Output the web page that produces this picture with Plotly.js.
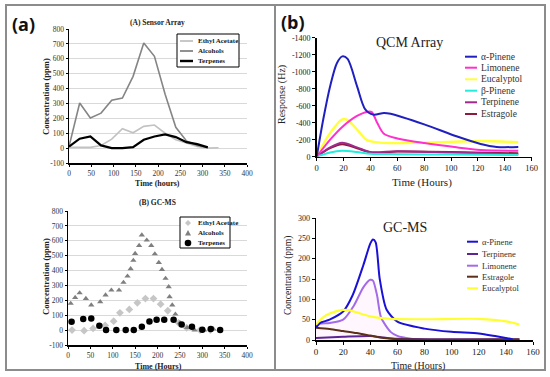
<!DOCTYPE html>
<html><head><meta charset="utf-8">
<script src="https://cdn.plot.ly/plotly-3.0.1.min.js"></script>
<style>html,body{margin:0;padding:0;background:#fff}#chart{width:550px;height:377px}</style>
</head><body><div id="chart"></div>
<script>
// ---------- (A) Sensor Array ----------
const saTime = [0,24,48,72,96,120,144,168,192,216,240,264,288,312,336];
const saEthyl = [5,5,5,18,60,130,103,146,155,100,56,34,11,0,2];
const saAlcohols = [10,303,202,235,322,336,482,706,617,362,140,48,18,5,null];
const saTerpenes = [10,63,78,18,0,0,7,56,78,92,74,40,27,5,null];

// ---------- (B) GC-MS (left) ----------
const gbEthylT = [9,36,56,83,102,116,137,155,173,191,207,223,247,265,295,318];
const gbEthyl = [0,-4,11,31,60,116,139,183,212,212,174,130,49,16,0,0];
const gbAlcT = [6,16,26,40,52,72,84,97,114,124,133,140,146,150,159,165,176,186,194,203,210,218,225,227,233,240,250,266,283,304,325];
const gbAlc = [179,219,250,212,168,190,235,268,268,320,362,412,468,514,568,638,604,568,512,454,407,347,291,224,168,107,49,16,0,0,7];
const gbTerpT = [8,34,52,70,85,108,129,147,165,182,198,215,236,254,277,300,319,340];
const gbTerp = [56,74,78,29,0,0,0,0,22,58,69,69,69,38,22,2,7,0];

// ---------- (b) QCM Array ----------
const qAlphaT = [0,5,10,15,19,23,30,36,42,50,55,80,104,122,134,150];
const qAlpha = [0,-450,-830,-1100,-1180,-1150,-830,-560,-495,-515,-505,-380,-240,-150,-115,-115];
const qLimT = [0,10,19,30,38,41,45,50,60,80,104,122,150];
const qLim = [0,-200,-350,-480,-530,-525,-400,-270,-215,-160,-110,-80,-70];
const qEucT = [0,10,19,23,30,37,47,80,122,150];
const qEuc = [0,-280,-440,-430,-320,-200,-165,-165,-185,-170];
const qSmallT = [0,10,19,30,40,60,100,150];
const qBeta = [0,-50,-70,-55,-35,-30,-25,-20];
const qTerp = [0,-110,-165,-110,-55,-65,-50,-30];
const qEstr = [0,-100,-145,-100,-50,-60,-55,-40];
const qYTicks = [0,-200,-400,-600,-800,-1000,-1200,-1400];
const qYLabels = ["0","-200","-400","-600","-800","-1000","-1200","-1400"];

// ---------- (b) GC-MS ----------
const gAlphaT = [0,3,10,20,27,35,40,42,44,47,52,60,80,100,120,133,145];
const gAlpha = [30,42,50,70,110,185,237,247,240,150,75,45,28,20,16,9,2];
const gLimT = [0,3,10,20,28,35,40,42,45,48,55,60,70,80];
const gLim = [35,40,42,50,85,130,148,146,110,55,20,10,3,0];
const gTerpT = [0,20,40,50,60,150];
const gTerp = [5,8,10,6,3,2];
const gEstrT = [0,10,20,30,40,50,60,150];
const gEstr = [30,27,22,17,11,5,2,1];
const gEucT = [0,5,10,20,25,30,40,55,80,120,140,150];
const gEuc = [38,55,65,74,73,68,58,52,51,52,46,38];

const leftYTicks = [-100,0,100,200,300,400,500,600,700,800];
const leftYLabels = ["-100","0","100","200","300","400","500","600","700","800"];

const W = 550, H = 377;
const px = x => x / W, py = y => 1 - y / H;
const SERIF = 'Liberation Serif';

const traces = [
  {x: saTime, y: saEthyl, xaxis:'x', yaxis:'y', mode:'lines', line:{color:'#c2c2c2', width:1.6}, name:'Ethyl Acetate'},
  {x: saTime, y: saAlcohols, xaxis:'x', yaxis:'y', mode:'lines', line:{color:'#858585', width:1.6}, name:'Alcohols'},
  {x: saTime, y: saTerpenes, xaxis:'x', yaxis:'y', mode:'lines', line:{color:'#000', width:2.2}, name:'Terpenes'},

  {x: gbEthylT, y: gbEthyl, xaxis:'x2', yaxis:'y2', mode:'markers', marker:{symbol:'diamond', size:6, color:'#c6c6c6'}, name:'Ethyl Acetate'},
  {x: gbAlcT, y: gbAlc, xaxis:'x2', yaxis:'y2', mode:'markers', marker:{symbol:'triangle-up', size:5.5, color:'#7f7f7f'}, name:'Alcohols'},
  {x: gbTerpT, y: gbTerp, xaxis:'x2', yaxis:'y2', mode:'markers', marker:{symbol:'circle', size:6.5, color:'#000'}, name:'Terpenes'},

  {x: qSmallT, y: qEstr, xaxis:'x3', yaxis:'y3', mode:'lines', line:{color:'#8e1a3c', width:2, shape:'spline', smoothing:0.8}, name:'Estragole'},
  {x: qSmallT, y: qTerp, xaxis:'x3', yaxis:'y3', mode:'lines', line:{color:'#a02a8e', width:2, shape:'spline', smoothing:0.8}, name:'Terpinene'},
  {x: qSmallT, y: qBeta, xaxis:'x3', yaxis:'y3', mode:'lines', line:{color:'#22eee0', width:2, shape:'spline', smoothing:0.8}, name:'β-Pinene'},
  {x: qEucT, y: qEuc, xaxis:'x3', yaxis:'y3', mode:'lines', line:{color:'#ffff3a', width:2.4, shape:'spline', smoothing:0.8}, name:'Eucalyptol'},
  {x: qLimT, y: qLim, xaxis:'x3', yaxis:'y3', mode:'lines', line:{color:'#ff30cc', width:2, shape:'spline', smoothing:0.8}, name:'Limonene'},
  {x: qAlphaT, y: qAlpha, xaxis:'x3', yaxis:'y3', mode:'lines', line:{color:'#2020c0', width:2, shape:'spline', smoothing:0.8}, name:'α-Pinene'},

  {x: gLimT, y: gLim, xaxis:'x4', yaxis:'y4', mode:'lines', fill:'tozeroy', fillcolor:'rgba(255,190,240,0.13)', line:{color:'#a46ae8', width:2, shape:'spline', smoothing:0.7}, name:'Limonene'},
  {x: gTerpT, y: gTerp, xaxis:'x4', yaxis:'y4', mode:'lines', line:{color:'#5d2593', width:2, shape:'spline', smoothing:0.7}, name:'Terpinene'},
  {x: gEstrT, y: gEstr, xaxis:'x4', yaxis:'y4', mode:'lines', line:{color:'#5c3018', width:2, shape:'spline', smoothing:0.7}, name:'Estragole'},
  {x: gAlphaT, y: gAlpha, xaxis:'x4', yaxis:'y4', mode:'lines', line:{color:'#1a10d8', width:2, shape:'spline', smoothing:0.7}, name:'α-Pinene'},
  {x: gEucT, y: gEuc, xaxis:'x4', yaxis:'y4', mode:'lines', line:{color:'#ffff30', width:2.2, shape:'spline', smoothing:0.7}, name:'Eucalyptol'}
];

const leftX = (dom, anchor) => ({domain: dom, anchor: anchor, range:[0,400], tickvals:[0,50,100,150,200,250,300,350,400],
  showgrid:false, zeroline:false, showline:true, linecolor:'#000', linewidth:1.5, ticks:'outside', ticklen:2, tickcolor:'#000',
  tickfont:{family:SERIF, size:7.5, color:'#333'}, fixedrange:true});
const leftY = (dom, anchor) => ({domain: dom, anchor: anchor, range:[-100,800], tickvals:leftYTicks, ticktext:leftYLabels,
  showgrid:true, gridcolor:'#d9d9d9', gridwidth:1, zeroline:false, showline:true, linecolor:'#000', linewidth:1.5, ticks:'outside', ticklen:2, tickcolor:'#000',
  tickfont:{family:SERIF, size:7.5, color:'#333'}, fixedrange:true});

const ann = (text, x, y, size, opts) => Object.assign({text: text, xref:'paper', yref:'paper', x: px(x), y: py(y), showarrow:false,
  xanchor:'center', yanchor:'middle', font:{family:SERIF, size:size, color:'#222'}}, opts || {});

const annotations = [
  ann('(a)', 23, 24, 18, {font:{family:'Open Sans', size:18, color:'#111', weight:'bold'}}),
  ann('(b)', 293, 22, 18, {font:{family:'Open Sans', size:18, color:'#111', weight:'bold'}}),
  ann('(A) Sensor Array', 157, 23, 7.5, {font:{family:SERIF, size:7.5, color:'#222', weight:'bold'}}),
  ann('Time (hours)', 157, 184, 8, {font:{family:SERIF, size:8, color:'#222', weight:'bold'}}),
  ann('Concentration (ppm)', 46, 97, 8.5, {textangle:-90, font:{family:SERIF, size:8.5, color:'#222', weight:'bold'}}),
  ann('(B) GC-MS', 157, 202, 7.5, {font:{family:SERIF, size:7.5, color:'#222', weight:'bold'}}),
  ann('Time (Hours)', 158, 366, 8, {font:{family:SERIF, size:8, color:'#222', weight:'bold'}}),
  ann('Concentration (ppm)', 46, 277, 8.5, {textangle:-90, font:{family:SERIF, size:8.5, color:'#222', weight:'bold'}}),
  ann('QCM Array', 409, 43, 14),
  ann('Time (Hours)', 422, 182, 11),
  ann('Response (Hz)', 282, 95, 10, {textangle:-90}),
  ann('GC-MS', 405, 228, 14),
  ann('Time (Hours)', 418, 366, 10),
  ann('Concentration (ppm)', 288, 276, 9.5, {textangle:-90})
];

const shapes = [
  {type:'rect', xref:'paper', yref:'paper', x0:px(6), x1:px(545), y0:py(370), y1:py(5), line:{color:'#8c8c8c', width:2}, layer:'below'},
  {type:'line', xref:'paper', yref:'paper', x0:px(275), x1:px(275), y0:py(370), y1:py(5), line:{color:'#8c8c8c', width:2}, layer:'below'}
];

// Legend A (lines)
shapes.push({type:'rect', xref:'paper', yref:'paper', x0:px(177), x1:px(239), y0:py(67), y1:py(34), fillcolor:'#fff', line:{color:'#000', width:1}});
[['Ethyl Acetate','#c2c2c2',1.8,41],['Alcohols','#858585',1.8,51],['Terpenes','#000',2.4,61]].forEach(([t,c,w,y]) => {
  shapes.push({type:'line', xref:'paper', yref:'paper', x0:px(180), x1:px(193), y0:py(y), y1:py(y), line:{color:c, width:w}});
  annotations.push(ann(t, 196, y, 7, {xanchor:'left', font:{family:SERIF, size:7, color:'#222', weight:'bold'}}));
});

// Legend B (markers)
shapes.push({type:'rect', xref:'paper', yref:'paper', x0:px(180), x1:px(230), y0:py(248), y1:py(217), fillcolor:'#fff', line:{color:'#000', width:1}});
const mx = 188;
shapes.push({type:'path', xref:'paper', yref:'paper', path:`M${px(mx)},${py(220)} L${px(mx+3)},${py(223)} L${px(mx)},${py(226)} L${px(mx-3)},${py(223)} Z`, fillcolor:'#c6c6c6', line:{width:0}});
shapes.push({type:'path', xref:'paper', yref:'paper', path:`M${px(mx)},${py(230)} L${px(mx+3)},${py(235.5)} L${px(mx-3)},${py(235.5)} Z`, fillcolor:'#7f7f7f', line:{width:0}});
shapes.push({type:'circle', xref:'paper', yref:'paper', x0:px(mx-3.3), x1:px(mx+3.3), y0:py(246.3), y1:py(239.7), fillcolor:'#000', line:{width:0}});
[['Ethyl Acetate',223],['Alcohols',233],['Terpenes',243]].forEach(([t,y]) => {
  annotations.push(ann(t, 196, y, 7, {xanchor:'left', font:{family:SERIF, size:7, color:'#222', weight:'bold'}}));
});

// QCM legend
[['α-Pinene','#2020c0',56.7],['Limonene','#ff30cc',67.7],['Eucalyptol','#ffff3a',79.3],['β-Pinene','#22eee0',90.7],['Terpinene','#a02a8e',102.3],['Estragole','#8e1a3c',114]].forEach(([t,c,y]) => {
  shapes.push({type:'line', xref:'paper', yref:'paper', x0:px(465), x1:px(477), y0:py(y), y1:py(y), line:{color:c, width:2}});
  annotations.push(ann(t, 479, y, 9.5, {xanchor:'left', font:{family:SERIF, size:9.5, color:'#333'}}));
});

// GC-MS legend
[['α-Pinene','#1a10d8',241.7],['Terpinene','#5d2593',254],['Limonene','#a46ae8',265.7],['Estragole','#5c3018',276.7],['Eucalyptol','#ffff30',288.3]].forEach(([t,c,y]) => {
  shapes.push({type:'line', xref:'paper', yref:'paper', x0:px(467), x1:px(478), y0:py(y), y1:py(y), line:{color:c, width:2}});
  annotations.push(ann(t, 480, y, 8.5, {xanchor:'left', font:{family:SERIF, size:8.5, color:'#333'}}));
});

const rightAxisBase = {showgrid:false, zeroline:false, showline:true, linecolor:'#000', linewidth:1.5, ticks:'outside', ticklen:3, tickcolor:'#000', fixedrange:true};

const layout = {
  width: W, height: H, margin:{l:0, r:0, t:0, b:0}, paper_bgcolor:'#fff', plot_bgcolor:'rgba(0,0,0,0)', showlegend:false,
  xaxis: leftX([px(69), px(247)], 'y'),
  yaxis: leftY([py(163), py(29)], 'x'),
  xaxis2: leftX([px(68), px(247)], 'y2'),
  yaxis2: leftY([py(345), py(211)], 'x2'),
  xaxis3: Object.assign({}, rightAxisBase, {domain:[px(316.7), px(531.7)], anchor:'y3', range:[0,160], dtick:20, tickfont:{family:SERIF, size:8.5, color:'#222'}}),
  yaxis3: Object.assign({}, rightAxisBase, {domain:[py(156.7), py(37.7)], anchor:'x3', range:[0,-1400], tickvals:qYTicks, ticktext:qYLabels, tickfont:{family:SERIF, size:8, color:'#222'}}),
  xaxis4: Object.assign({}, rightAxisBase, {domain:[px(316), px(533)], anchor:'y4', range:[0,160], dtick:20, tickfont:{family:SERIF, size:9, color:'#222'}}),
  yaxis4: Object.assign({}, rightAxisBase, {domain:[py(340), py(218)], anchor:'x4', range:[0,300], dtick:50, tickfont:{family:SERIF, size:8, color:'#222'}}),
  annotations: annotations,
  shapes: shapes
};

Plotly.newPlot('chart', traces, layout, {displayModeBar:false, staticPlot:true});
</script>
</body></html>
